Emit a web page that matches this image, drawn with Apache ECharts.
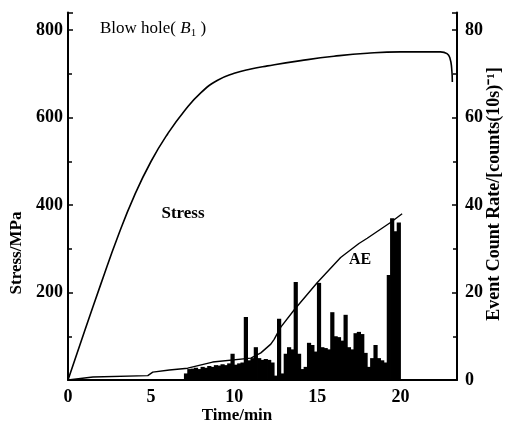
<!DOCTYPE html>
<html><head><meta charset="utf-8">
<script src="https://cdn.jsdelivr.net/npm/echarts@6/dist/echarts.min.js"></script>
<style>html,body{margin:0;padding:0;background:#fff}#c{width:507px;height:432px}</style>
</head><body><div id="c"></div>
<script>
// Stress curve (left axis, MPa) vs time (min)
const stressTime = [0, 1, 2, 3, 4, 5, 6, 7, 8, 9, 10, 11, 12, 14, 16, 18, 20, 22.4, 22.8, 22.98, 23.08, 23.12];
const stressVal  = [0, 112, 222, 328, 422, 500, 563, 615, 657, 685, 701, 711, 718, 730, 740, 747, 750, 750, 746, 735, 712, 681];
// Cumulative AE line (right axis)
const aeTime = [0, 1.5, 4.8, 4.9, 5.1, 6.1, 7.2, 8.7, 11.0, 11.6, 12.2, 12.4, 12.8, 13.6, 15.0, 16.4, 17.5, 18.0, 19.4, 20.1];
const aeVal  = [0, 0.7, 1.0, 1.4, 1.8, 2.3, 2.7, 4.1, 5.0, 6.2, 8.2, 9.3, 12.1, 16.0, 22.3, 28.0, 31.2, 32.4, 36.0, 38.0];
// Event count rate bars (right axis), bin centres in min
const rateTime = [7.1,7.3,7.5,7.7,7.9,8.1,8.3,8.5,8.7,8.9,9.1,9.3,9.5,9.7,9.9,10.1,10.3,10.5,10.7,10.9,11.1,11.3,11.5,11.7,11.9,12.1,12.3,12.5,12.7,12.9,13.1,13.3,13.5,13.7,13.9,14.1,14.3,14.5,14.7,14.9,15.1,15.3,15.5,15.7,15.9,16.1,16.3,16.5,16.7,16.9,17.1,17.3,17.5,17.7,17.9,18.1,18.3,18.5,18.7,18.9,19.1,19.3,19.5,19.7,19.9];
const rateVal  = [1.5,2.5,2.6,2.8,2.5,3.0,2.8,3.2,3.0,3.4,3.3,3.6,3.4,3.8,6.0,3.5,3.8,4.0,14.4,4.5,5.0,7.5,5.0,4.6,4.8,4.6,4.0,1.0,14.0,1.5,6.0,7.5,7.0,22.4,6.0,2.5,3.0,8.5,8.0,6.5,22.2,7.5,7.3,7.0,15.5,10.0,9.8,9.0,14.9,7.5,7.0,10.7,11.0,10.5,6.2,3.0,5.0,8.0,5.0,4.5,4.0,24.0,37.0,34.0,36.0];
const xTicks = [0, 5, 10, 15, 20];
const stressTicks = [200, 400, 600, 800];
const rateTicks = [0, 20, 40, 60, 80];

const zip = (a, b) => a.map((v, i) => [v, b[i]]);
const font = 'Liberation Serif';
const chart = echarts.init(document.getElementById('c'), null, {renderer: 'canvas'});
const axLine = {show: true, lineStyle: {color: '#000', width: 2}};
chart.setOption({
  animation: false,
  backgroundColor: '#fff',
  grid: {left: 68, right: 50, top: 12.5, bottom: 52, containLabel: false},
  xAxis: {
    type: 'value', min: 0, max: 23.4, interval: 5,
    axisLine: axLine, axisTick: {show: false}, splitLine: {show: false},
    axisLabel: {showMaxLabel: false, color: '#000', fontFamily: font, fontWeight: 'bold', fontSize: 18, margin: 8,
      formatter: v => xTicks.includes(v) ? String(v) : ''}
  },
  yAxis: [{
    type: 'value', min: 0, max: 840, interval: 200, position: 'left',
    axisLine: axLine, splitLine: {show: false},
    axisTick: {show: true, inside: true, length: 5, lineStyle: {color: '#000', width: 1.5}},
    minorTick: {show: true, splitNumber: 2, length: 4, lineStyle: {color: '#000', width: 1.5}},
    axisLabel: {showMaxLabel: false, showMinLabel: false, color: '#000', fontFamily: font, fontWeight: 'bold', fontSize: 18, margin: 5,
      formatter: v => stressTicks.includes(v) ? String(v) : ''}
  }, {
    type: 'value', min: 0, max: 84, interval: 20, position: 'right',
    axisLine: axLine, splitLine: {show: false},
    axisTick: {show: true, inside: true, length: 5, lineStyle: {color: '#000', width: 1.5}},
    minorTick: {show: true, splitNumber: 2, length: 4, lineStyle: {color: '#000', width: 1.5}},
    axisLabel: {showMaxLabel: false, color: '#000', fontFamily: font, fontWeight: 'bold', fontSize: 18, margin: 8,
      formatter: v => rateTicks.includes(v) ? String(v) : ''}
  }],
  series: [{
    type: 'bar', yAxisIndex: 1, data: zip(rateTime, rateVal), barWidth: 4.2,
    itemStyle: {color: '#000'}, silent: true
  }, {
    type: 'line', yAxisIndex: 1, data: zip(aeTime, aeVal), showSymbol: false,
    lineStyle: {color: '#000', width: 1.4}
  }, {
    type: 'line', yAxisIndex: 0, data: zip(stressTime, stressVal), showSymbol: false,
    smooth: 0.5,
    lineStyle: {color: '#000', width: 1.6}
  }],
  graphic: [
    {type: 'text', left: 100, top: 20, style: {text: 'Blow hole( {i|B}{s|1} )', fill: '#000', font: '17px "Liberation Serif"',
      rich: {i: {font: 'italic 17px "Liberation Serif"', fill: '#000'}, s: {font: '11px "Liberation Serif"', fill: '#000', padding: [9, 0, 0, 0]}}}},
    {type: 'text', x: 183, y: 214, style: {text: 'Stress', fill: '#000', font: 'bold 17px "Liberation Serif"', align: 'center', verticalAlign: 'middle'}},
    {type: 'text', x: 360, y: 260, style: {text: 'AE', fill: '#000', font: 'bold 16px "Liberation Serif"', align: 'center', verticalAlign: 'middle'}},
    {type: 'text', x: 237, y: 416, style: {text: 'Time/min', fill: '#000', font: 'bold 17px "Liberation Serif"', align: 'center', verticalAlign: 'middle'}},
    {type: 'text', x: 17, y: 253, rotation: Math.PI / 2, style: {text: 'Stress/MPa', fill: '#000', font: 'bold 17px "Liberation Serif"', align: 'center', verticalAlign: 'middle'}},
    {type: 'text', x: 494, y: 194, rotation: Math.PI / 2, style: {text: 'Event Count Rate/[counts(10s)\u207B\u00B9]', fill: '#000', font: 'bold 18px "Liberation Serif"', align: 'center', verticalAlign: 'middle'}}
  ]
});
</script></body></html>
